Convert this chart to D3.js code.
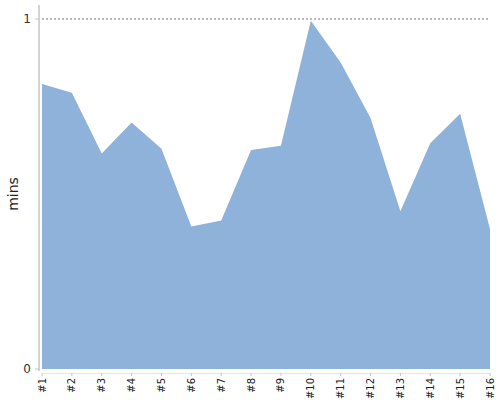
<!DOCTYPE html>
<html><head><meta charset="utf-8">
<script src="https://cdn.jsdelivr.net/npm/d3@7"></script>
<style>body{margin:0;background:#fff}</style>
</head><body>
<svg id="c" width="500" height="400"></svg>
<script>
const categories = ["#1","#2","#3","#4","#5","#6","#7","#8","#9","#10","#11","#12","#13","#14","#15","#16"];
const values = [0.814,0.789,0.616,0.704,0.629,0.407,0.424,0.626,0.638,0.995,0.876,0.717,0.451,0.645,0.729,0.400];
const yTicks = [0, 1];
const yLabel = "mins";

const svg = d3.select("#c");
const x = d3.scalePoint().domain(categories).range([42, 490]);
const y = d3.scaleLinear().domain([0, 1]).range([369, 19]);
const font = "DejaVu Sans, Verdana, sans-serif";

// reference dashed line at max tick
svg.append("line").attr("x1", 42).attr("x2", 490)
  .attr("y1", y(1)).attr("y2", y(1))
  .attr("stroke", "#777").attr("stroke-width", 1).attr("stroke-dasharray", "2,2");

// area
const area = d3.area().x((d,i)=>x(categories[i])).y0(y(0)).y1(d=>y(d));
svg.append("path").datum(values).attr("d", area).attr("fill", "#8fb2da");

// y axis
svg.append("line").attr("x1", 39).attr("x2", 39).attr("y1", 5).attr("y2", 371)
  .attr("stroke", "#c4c4c4").attr("stroke-width", 1.5);
yTicks.forEach(t => {
  svg.append("line").attr("x1", 35).attr("x2", 39).attr("y1", y(t)).attr("y2", y(t))
    .attr("stroke", "#c4c4c4");
  svg.append("text").attr("x", 31).attr("y", y(t)).attr("dy", "0.35em")
    .attr("text-anchor", "end").attr("font-family", font).attr("font-size", 12)
    .attr("fill", "#333").text(t);
});
svg.append("text").attr("transform", "translate(18," + ((y(0)+y(1))/2) + ") rotate(-90)")
  .attr("text-anchor", "middle").attr("font-family", font).attr("font-size", 14)
  .attr("fill", "#222").text(yLabel);

// x axis
svg.append("line").attr("x1", 42).attr("x2", 490).attr("y1", 373.5).attr("y2", 373.5)
  .attr("stroke", "#e4e4e4");
categories.forEach(c => {
  svg.append("line").attr("x1", x(c)).attr("x2", x(c)).attr("y1", 373).attr("y2", 376)
    .attr("stroke", "#c4c4c4");
  svg.append("text").attr("transform", "translate(" + (x(c)+3.5) + ",378) rotate(-90)")
    .attr("text-anchor", "end").attr("font-family", font).attr("font-size", 10)
    .attr("fill", "#222").text(c);
});
</script>
</body></html>
